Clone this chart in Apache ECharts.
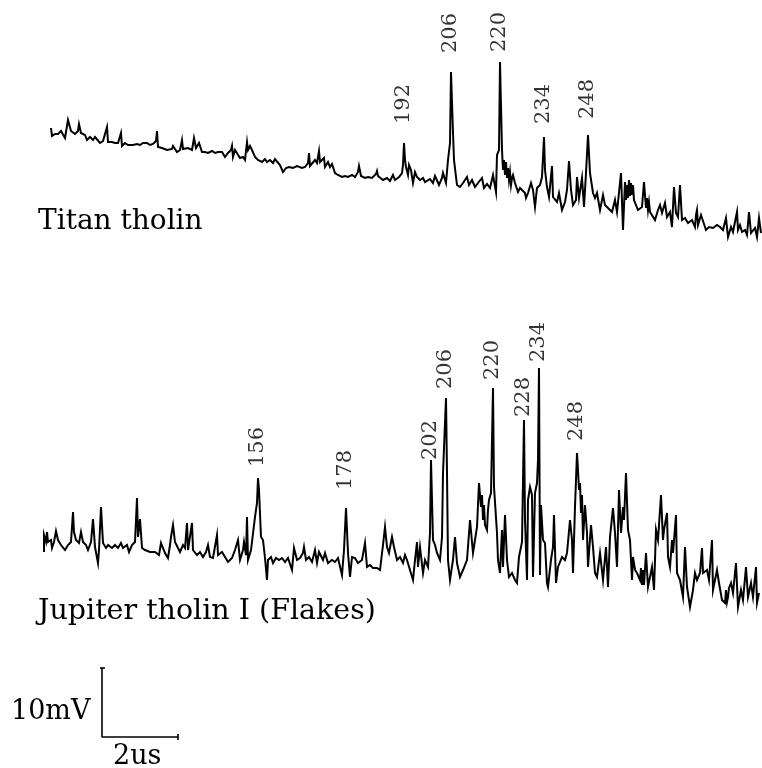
<!DOCTYPE html>
<html>
<head>
<meta charset="utf-8">
<script src="https://cdn.jsdelivr.net/npm/echarts@6/dist/echarts.min.js"></script>
<style>
  html, body { margin: 0; padding: 0; background: #fff; }
  #chart { width: 762px; height: 768px; }
</style>
</head>
<body>
<div id="chart"></div>
<script>

// time (channels) , signal (arbitrary units above each trace's own zero)
let titanTrace = [
  [51,122],[52,114],[55,116],[58,116],[61,119],[63,118],[65,112],[68,130],[71,119],[73,117],
  [75,116],[78,119],[79,126],[81,117],[83,116],[85,115],[87,110],[90,113],[93,110],[95,113],
  [97,111],[100,107],[103,109],[105,110],[107,123],[108,108],[112,108],[115,107],[118,107],[121,117],
  [122,104],[125,107],[128,105],[133,105],[137,106],[140,105],[143,107],[147,107],[150,105],[153,106],
  [156,109],[157,119],[158,103],[162,102],[167,100],[172,101],[173,104],[177,98],[180,100],[182,110],
  [183,101],[188,102],[192,100],[194,112],[196,102],[199,107],[202,98],[205,98],[208,97],[212,99],
  [215,97],[218,98],[222,98],[225,93],[228,97],[231,100],[232,104],[233,93],[235,100],[237,98],
  [240,92],[243,93],[245,90],[247,108],[248,100],[250,104],[252,100],[253,102],[255,93],[258,90],
  [262,88],[265,91],[267,88],[270,90],[273,87],[275,91],[277,91],[280,85],[283,78],[286,82],
  [289,83],[293,82],[297,84],[302,82],[305,83],[308,87],[309,97],[310,84],[312,83],[315,90],
  [317,87],[319,99],[320,88],[322,87],[324,92],[325,83],[328,88],[330,83],[332,86],[335,77],
  [338,75],[342,73],[345,74],[348,73],[352,75],[355,73],[358,78],[359,84],[361,74],[362,73],
  [365,72],[368,73],[372,72],[376,76],[377,79],[378,74],[380,72],[383,70],[387,72],[390,69],
  [393,75],[395,70],[397,71],[399,73],[402,77],[403,85],[404,107],[405,90],[406,83],[408,75],
  [409,85],[411,80],[413,67],[415,78],[417,73],[420,70],[423,72],[425,68],[427,68],[430,71],
  [433,67],[435,74],[437,73],[439,65],[442,72],[443,77],[446,67],[448,90],[450,107],[451,178],
  [453,117],[454,90],[457,65],[460,63],[463,67],[465,70],[467,73],[469,65],[472,70],[475,63],
  [478,67],[480,68],[482,72],[484,62],[487,66],[490,62],[493,75],[496,58],[497,95],[499,100],
  [500,188],[502,100],[503,80],[504,90],[505,75],[506,88],[507,72],[508,82],[509,70],[510,78],
  [511,65],[512,72],[513,75],[515,67],[518,58],[520,62],[522,62],[525,57],[526,52],[528,57],
  [531,67],[533,60],[535,43],[537,62],[540,65],[542,73],[544,113],[545,80],[547,63],[549,53],
  [552,84],[553,53],[557,48],[559,57],[562,40],[565,48],[567,60],[569,89],[571,60],[573,45],
  [576,50],[577,73],[579,52],[582,72],[584,43],[586,77],[588,115],[590,77],[593,57],[595,52],
  [597,57],[600,40],[603,55],[605,45],[608,42],[612,38],[615,50],[617,38],[619,37],[621,77],
  [623,20],[625,68],[626,50],[627,65],[628,52],[629,70],[630,54],[631,67],[632,55],[633,65],
  [634,50],[636,48],[638,40],[642,43],[644,68],[646,42],[647,52],[648,40],[649,48],[650,38],
  [652,37],[655,30],[658,40],[660,45],[662,37],[665,47],[667,33],[670,38],[672,23],[674,63],
  [676,37],[678,33],[680,65],[682,30],[685,32],[688,27],[692,30],[695,23],[696,35],[697,40],
  [698,25],[700,27],[701,35],[703,33],[706,20],[709,23],[713,22],[717,25],[720,23],[723,20],
  [726,32],[728,13],[731,23],[733,18],[737,38],[738,20],[740,25],[742,18],[745,20],[747,15],
  [749,38],[751,17],[753,18],[755,22],[757,13],[759,32],[761,17]
];

let jupiterTrace = [
  [44,68],[44,85],[46,78],[47,88],[48,78],[51,80],[52,72],[54,78],[56,89],[58,80],
  [61,75],[65,70],[68,75],[71,78],[73,108],[74,88],[76,80],[77,78],[79,77],[81,88],
  [83,78],[86,75],[88,70],[91,78],[93,101],[95,73],[98,57],[99,70],[101,113],[103,77],
  [106,72],[108,75],[112,72],[115,75],[118,72],[121,77],[123,72],[127,75],[129,68],[132,75],
  [135,78],[137,122],[138,83],[140,101],[142,72],[145,70],[150,68],[155,68],[159,65],[161,77],
  [163,78],[165,67],[168,62],[170,75],[171,83],[173,95],[175,78],[178,72],[180,68],[183,75],
  [185,72],[187,97],[188,70],[190,72],[192,97],[193,70],[197,65],[200,68],[203,63],[206,68],
  [208,75],[210,63],[213,62],[217,85],[218,65],[222,68],[225,63],[228,58],[232,62],[235,70],
  [238,80],[240,60],[243,70],[244,78],[246,65],[247,103],[248,60],[251,70],[253,70],[255,103],
  [257,117],[258,142],[259,130],[261,83],[263,80],[265,62],[267,40],[268,60],[271,63],[273,57],
  [276,62],[279,60],[282,62],[285,58],[288,62],[292,50],[294,72],[297,60],[300,62],[303,67],
  [304,73],[306,60],[309,63],[312,58],[315,70],[317,57],[319,68],[323,60],[325,67],[328,57],
  [332,60],[335,58],[338,62],[342,45],[344,70],[346,112],[348,67],[350,43],[352,63],[355,62],
  [358,57],[362,60],[365,77],[367,53],[370,55],[373,52],[377,52],[380,50],[383,75],[385,93],
  [387,73],[389,67],[392,83],[394,73],[397,60],[400,63],[403,57],[405,65],[407,60],[410,50],
  [413,40],[415,60],[417,78],[418,53],[420,73],[423,47],[425,60],[428,53],[430,87],[431,160],
  [433,80],[435,75],[437,67],[440,60],[442,83],[443,147],[446,222],[447,147],[448,60],[450,40],
  [453,60],[455,83],[457,57],[460,43],[463,50],[467,60],[470,100],[473,67],[475,80],[477,93],
  [479,137],[481,113],[482,125],[483,100],[484,115],[485,95],[487,90],[488,110],[489,120],[491,127],
  [493,232],[494,133],[497,87],[498,60],[500,47],[502,90],[503,53],[505,105],[507,60],[509,43],
  [512,47],[515,40],[517,37],[519,63],[522,78],[524,200],[525,100],[527,40],[528,120],[530,133],
  [532,125],[533,43],[535,127],[537,137],[538,160],[539,252],[540,45],[541,115],[543,80],[545,77],
  [547,37],[548,33],[551,60],[553,73],[554,105],[556,37],[558,53],[560,55],[562,63],[565,60],
  [567,67],[570,100],[572,80],[573,47],[575,113],[576,140],[577,167],[578,150],[579,130],[580,137],
  [581,107],[582,125],[583,80],[585,115],[587,87],[588,53],[591,95],[593,73],[595,47],[597,43],
  [600,67],[603,40],[606,73],[608,33],[610,83],[613,112],[615,87],[617,53],[619,130],[621,87],
  [623,113],[624,100],[626,147],[628,90],[630,80],[632,40],[633,63],[635,50],[637,47],[640,40],
  [641,52],[642,35],[643,50],[644,35],[646,67],[648,33],[652,53],[654,30],[656,90],[658,80],
  [661,125],[663,80],[664,90],[667,107],[668,63],[670,53],[672,80],[673,67],[676,105],[677,47],
  [680,40],[683,23],[685,73],[687,33],[690,13],[693,30],[695,47],[697,40],[700,47],[702,72],
  [703,47],[707,50],[709,40],[712,80],[713,30],[717,50],[719,37],[722,20],[725,17],[726,30],
  [727,18],[728,23],[729,32],[731,37],[733,27],[736,57],[738,13],[741,30],[743,20],[746,53],
  [748,23],[751,37],[753,23],[756,53],[757,17],[759,27]
];

let titanPeakMass   = ['192','206','220','234','248'];
let titanPeakTime   = [404, 451, 500, 544, 588];
let titanPeakSignal = [107, 178, 188, 113, 115];

let jupiterPeakMass   = ['156','178','202','206','220','228','234','248'];
let jupiterPeakTime   = [258, 346, 431, 446, 493, 524, 539, 577];
let jupiterPeakSignal = [142, 112, 160, 222, 232, 200, 252, 167];

// scale bar: 10 mV and 2 us in the traces' units
let scaleBarMV = 69;
let scaleBarUS = 76;

// label look (gap above the peak, sideways shift)
let titanLabelGap = [20, 17, 9, 12, 11];
let titanLabelDx  = [-1, 2, 1, 1, 5];
let jupiterLabelGap = [10, 15, 7, 10, 10, 8, 6, 8];
let jupiterLabelDx  = [1, 3, -7, -1, -2, -5, 0, 4];

const FONT = 'DejaVu Serif';

function peakLabels(mass, time, signal, gap, dx, gridIdx){
    let data = [];
    for (let i = 0; i < mass.length; i++){
        data.push({
            value: [time[i], signal[i]],
            name: mass[i],
            label: { distance: gap[i], offset: [dx[i], 0] }
        });
    }
    return {
        type: 'scatter',
        xAxisIndex: gridIdx,
        yAxisIndex: gridIdx,
        symbolSize: 0,
        silent: true,
        z: 5,
        label: {
            show: true,
            position: 'top',
            rotate: 90,
            align: 'left',
            verticalAlign: 'middle',
            formatter: '{b}',
            color: '#000',
            fontFamily: FONT,
            fontSize: 21
        },
        data: data
    };
}

function traceSeries(data, gridIdx){
    return {
        type: 'line',
        xAxisIndex: gridIdx,
        yAxisIndex: gridIdx,
        showSymbol: false,
        clip: false,
        lineStyle: { color: '#000', width: 2, join: 'miter' },
        data: data
    };
}

function barSeries(data){
    return {
        type: 'line',
        xAxisIndex: 2,
        yAxisIndex: 2,
        showSymbol: false,
        clip: false,
        lineStyle: { color: '#000', width: 1.6 },
        data: data
    };
}

let barX = 102, barY = 13;   // corner of the scale bar

let hiddenX = { type: 'value', min: 0, max: 762, show: false };
function hiddenY(max){ return { type: 'value', min: 0, max: max, show: false }; }

let myChart = echarts.init(document.getElementById('chart'));

option = {
    animation: false,
    backgroundColor: '#fff',
    grid: [
        { left: 0, width: 762, top: 0, height: 250 },
        { left: 0, width: 762, top: 350, height: 270 },
        { left: 0, width: 762, top: 650, height: 100 }
    ],
    xAxis: [ Object.assign({gridIndex: 0}, hiddenX), Object.assign({gridIndex: 1}, hiddenX), Object.assign({gridIndex: 2}, hiddenX) ],
    yAxis: [ Object.assign({gridIndex: 0}, hiddenY(250)), Object.assign({gridIndex: 1}, hiddenY(270)), Object.assign({gridIndex: 2}, hiddenY(100)) ],
    series: [
        traceSeries(titanTrace, 0),
        traceSeries(jupiterTrace, 1),
        peakLabels(titanPeakMass, titanPeakTime, titanPeakSignal, titanLabelGap, titanLabelDx, 0),
        peakLabels(jupiterPeakMass, jupiterPeakTime, jupiterPeakSignal, jupiterLabelGap, jupiterLabelDx, 1),
        barSeries([[barX, barY + scaleBarMV], [barX, barY], [barX + scaleBarUS, barY]]),
        barSeries([[barX - 2, barY + scaleBarMV], [barX + 3, barY + scaleBarMV]]),
        barSeries([[barX + scaleBarUS, barY + 3], [barX + scaleBarUS, barY - 3]])
    ],
    graphic: [
        { type: 'text', left: 38, top: 208, style: { text: 'Titan tholin', fontFamily: FONT, fontSize: 28, fill: '#000' } },
        { type: 'text', left: 38, top: 597, style: { text: 'Jupiter tholin I (Flakes)', fontFamily: FONT, fontSize: 28.5, fill: '#000' } },
        { type: 'text', left: 11, top: 698, style: { text: '10mV', fontFamily: FONT, fontSize: 27, fill: '#000' } },
        { type: 'text', left: 113, top: 743, style: { text: '2us', fontFamily: FONT, fontSize: 27, fill: '#000' } }
    ]
};

myChart.setOption(option);
</script>
</body>
</html>
